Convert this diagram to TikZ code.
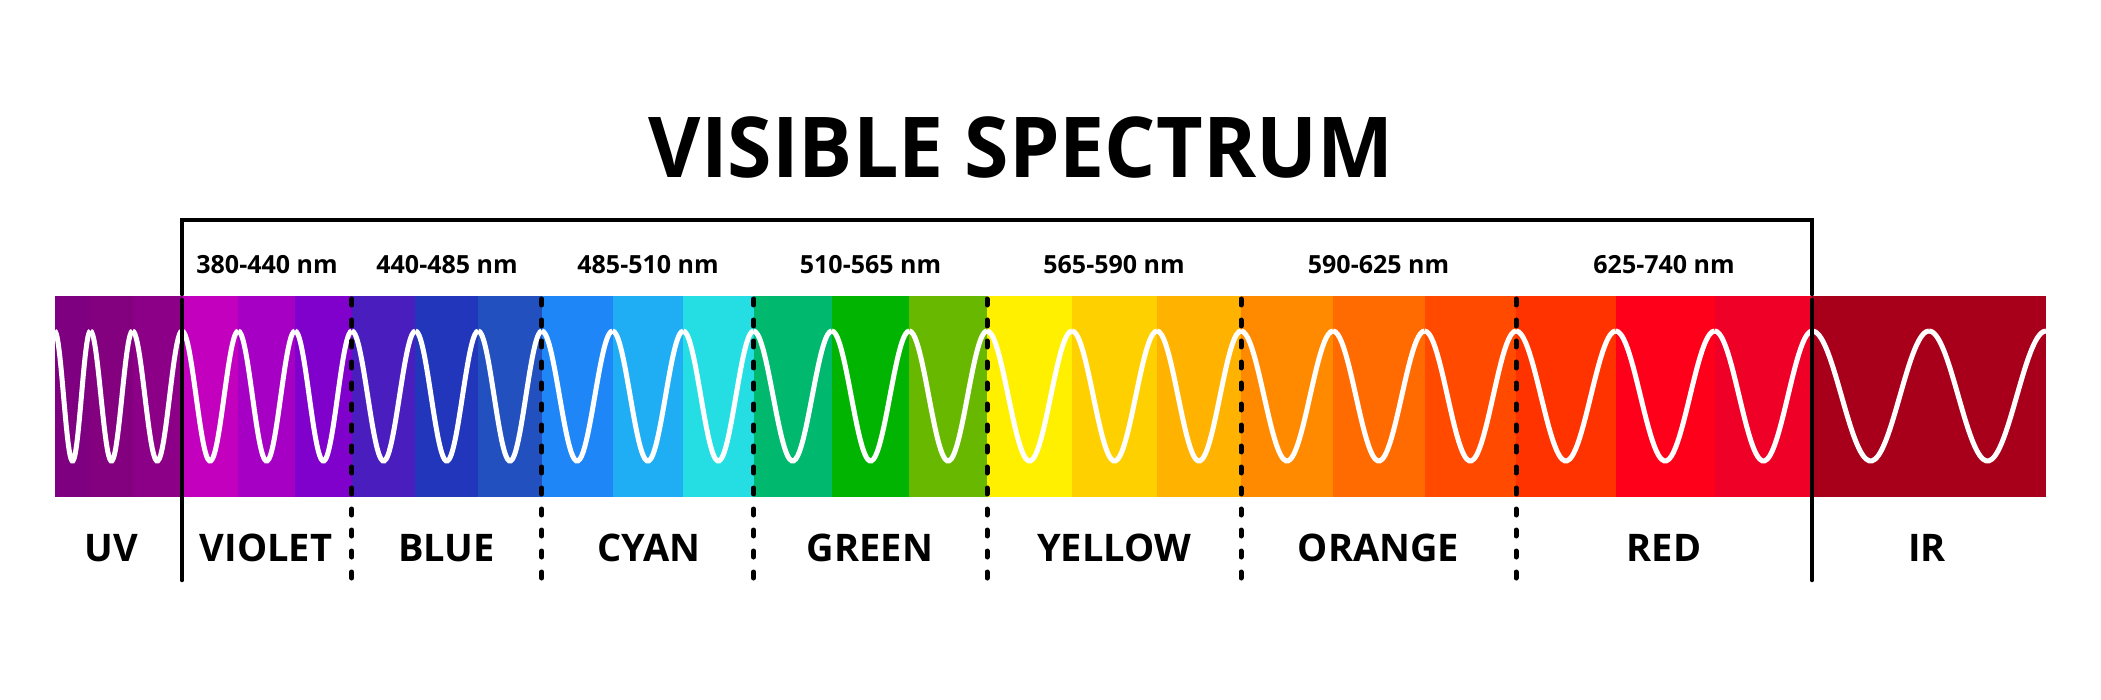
\documentclass[tikz,border=0pt]{standalone}
\usepackage{fontspec}
\setmainfont{Open Sans}
\newcommand{\semib}{\bfseries}
\usepackage{graphicx}
\definecolor{uvA}{HTML}{7E0080}
\definecolor{uvB}{HTML}{83007F}
\definecolor{uvC}{HTML}{8B0086}
\definecolor{viA}{HTML}{C200BE}
\definecolor{viB}{HTML}{A700C5}
\definecolor{viC}{HTML}{8000CC}
\definecolor{blA}{HTML}{4A1EBE}
\definecolor{blB}{HTML}{2136BA}
\definecolor{blC}{HTML}{2250BE}
\definecolor{cyA}{HTML}{1E86F7}
\definecolor{cyB}{HTML}{1FAEF4}
\definecolor{cyC}{HTML}{24DEE3}
\definecolor{grA}{HTML}{00B86E}
\definecolor{grB}{HTML}{01B401}
\definecolor{grC}{HTML}{69B800}
\definecolor{yeA}{HTML}{FFF000}
\definecolor{yeB}{HTML}{FFD000}
\definecolor{yeC}{HTML}{FFB300}
\definecolor{orA}{HTML}{FF8A00}
\definecolor{orB}{HTML}{FF6B00}
\definecolor{orC}{HTML}{FF4A00}
\definecolor{rdA}{HTML}{FF3300}
\definecolor{rdB}{HTML}{FF001A}
\definecolor{rdC}{HTML}{EE0027}
\definecolor{irA}{HTML}{A8001A}
\begin{document}
\begin{tikzpicture}[x=1pt,y=-1pt,
  wave/.style={white,line width=5pt},
  bracketline/.style={black,line width=4.6pt,line cap=round,line join=miter},
  dashline/.style={black,line width=5pt,line cap=round,dash pattern=on 6pt off 15pt},
  nmlabel/.style={anchor=base,inner sep=0pt,font=\semib\fontsize{25}{30}\selectfont},
  bandlabel/.style={anchor=base,inner sep=0pt,font=\semib\fontsize{38}{45}\selectfont},
  titlelabel/.style={anchor=base,inner sep=0pt,font=\semib\fontsize{84}{100}\selectfont}]
\useasboundingbox (0,0) rectangle (2101,700);
\fill[white] (0,0) rectangle (2101,700);
% colour strips
\foreach \a/\b/\c in {54.6/90.4/uvA,90.4/132.5/uvB,132.5/182/uvC,
  182/238.2/viA,238.2/295/viB,295/351.8/viC,
  351.8/415.4/blA,415.4/478.2/blB,478.2/541.8/blC,
  541.8/612.5/cyA,612.5/683.2/cyB,683.2/753.5/cyC,
  753.5/831.8/grA,831.8/909.3/grB,909.3/987/grC,
  987/1072/yeA,1072/1157/yeB,1157/1241/yeC,
  1241/1333/orA,1333/1424.6/orB,1424.6/1516/orC,
  1516/1615.7/rdA,1615.7/1714.7/rdB,1714.7/1812.3/rdC,
  1812.3/2046/irA}
  {\fill[\c] (\a,296) rectangle (\b,497);}
% wave
\foreach \a/\b in {54.6/90.4,90.4/132.5,132.5/182,
  182/238.2,238.2/295,295/351.8,
  351.8/415.4,415.4/478.2,478.2/541.8,
  541.8/612.5,612.5/683.2,683.2/753.5,
  753.5/831.8,831.8/909.3,909.3/987,
  987/1072,1072/1157,1157/1241,
  1241/1333,1333/1424.6,1424.6/1516,
  1516/1615.7,1615.7/1714.7,1714.7/1812.3,
  1812.3/1929,1929/2046}
  {\draw[wave] plot[domain=\a:\b,samples=40,smooth] (\x,{396-65*cos(360/(\b-\a)*(\x-\a))});}
% bracket
\coordinate (bl) at (182,294);
\coordinate (tl) at (182,220);
\coordinate (tr) at (1812,220);
\coordinate (br) at (1812,294);
\draw[bracketline] (bl) -- (tl) -- (tr) -- (br);
\coordinate (ls) at (182,300);
\coordinate (le) at (182,580);
\coordinate (rs) at (1812,300);
\coordinate (re) at (1812,580);
\draw[bracketline] (ls) -- (le);
\draw[bracketline] (rs) -- (re);
% dashed separators
\foreach \x [count=\i] in {351.8,541.8,753.5,987,1241,1516}
  {\coordinate (ds\i) at (\x,299); \coordinate (de\i) at (\x,578);
   \draw[dashline] (ds\i) -- (de\i);}
% title
\node[titlelabel] (title) at (1021,177.3) {\scalebox{0.96}[1]{VISIBLE SPECTRUM}};
% wavelength labels
\node[nmlabel] (nm1) at (267,274) {380-440 nm};
\node[nmlabel] (nm2) at (447,274) {440-485 nm};
\node[nmlabel] (nm3) at (648,274) {485-510 nm};
\node[nmlabel] (nm4) at (870.5,274) {510-565 nm};
\node[nmlabel] (nm5) at (1114,274) {565-590 nm};
\node[nmlabel] (nm6) at (1378.5,274) {590-625 nm};
\node[nmlabel] (nm7) at (1664,274) {625-740 nm};
% band labels
\node[bandlabel] (uv) at (111,561) {UV};
\node[bandlabel] (violet) at (266,561) {VIOLET};
\node[bandlabel] (blue) at (446.5,561) {BLUE};
\node[bandlabel] (cyan) at (649,561) {CYAN};
\node[bandlabel] (green) at (870,561) {GREEN};
\node[bandlabel] (yellow) at (1114,561) {YELLOW};
\node[bandlabel] (orange) at (1378.5,561) {ORANGE};
\node[bandlabel] (red) at (1664,561) {RED};
\node[bandlabel] (ir) at (1927,561) {IR};
\end{tikzpicture}
\end{document}
